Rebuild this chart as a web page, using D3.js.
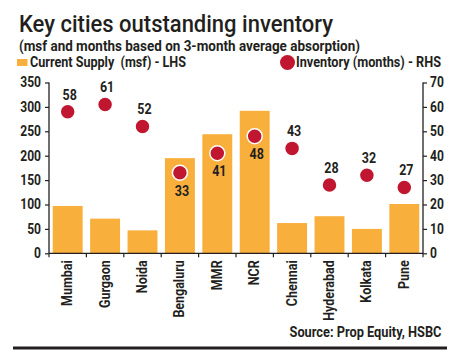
<!DOCTYPE html>
<html><head><meta charset="utf-8">
<script src="https://cdn.jsdelivr.net/npm/d3@7"></script>
<style>
body{margin:0;background:#fff;}
text{font-family:Roboto,"Liberation Sans",sans-serif;fill:#231f20;}
</style></head><body>
<svg id="c" width="462" height="355"></svg>
<script>
const cities = ["Mumbai","Gurgaon","Noida","Bengaluru","MMR","NCR","Chennai","Hyderabad","Kolkata","Pune"];
const supply = [97,71,47,195,244,292,62,76,50,101];
const inventory = [58,61,52,33,41,48,43,28,32,27];
const leftTicks = [0,50,100,150,200,250,300,350];
const rightTicks = [0,10,20,30,40,50,60,70];
const labelBelow = ["Bengaluru","MMR","NCR"];

const svg = d3.select("#c");
const L = 49, R = 423, T = 82.5, B = 253.3;
const x = d3.scaleBand().domain(cities).range([L,R]).paddingInner(0.2).paddingOuter(0.1);
const yL = d3.scaleLinear().domain([0,350]).range([B,T]);
const yR = d3.scaleLinear().domain([0,70]).range([B,T]);
const orange = "#f9af3c", red = "#c1162f";

function fit(sel, w){ sel.attr("textLength", w).attr("lengthAdjust","spacingAndGlyphs"); return sel; }
function condense(sel, f){ sel.each(function(){ const w=this.getComputedTextLength(); d3.select(this).attr("textLength", w*f).attr("lengthAdjust","spacingAndGlyphs"); }); return sel; }

fit(svg.append("text").attr("x",19).attr("y",32).attr("font-size",24).attr("font-weight",500).text("Key cities outstanding inventory"),314);
fit(svg.append("text").attr("x",19).attr("y",50.5).attr("font-size",14).attr("font-weight","bold").text("(msf and months based on 3-month average absorption)"),341);
svg.append("rect").attr("x",17).attr("y",59).attr("width",10.5).attr("height",7).attr("fill",orange);
fit(svg.append("text").attr("x",30).attr("y",66.5).attr("font-size",14).attr("font-weight","bold").attr("xml:space","preserve").text("Current Supply  (msf) - LHS"),156);
svg.append("circle").attr("cx",287.5).attr("cy",62.5).attr("r",7.5).attr("fill",red);
fit(svg.append("text").attr("x",296).attr("y",66.5).attr("font-size",14).attr("font-weight","bold").text("Inventory (months) - RHS"),145);

svg.selectAll(".bar").data(cities).enter().append("rect")
  .attr("x",d=>x(d)).attr("width",x.bandwidth())
  .attr("y",(d,i)=>yL(supply[i])).attr("height",(d,i)=>B-yL(supply[i]))
  .attr("fill",orange);

// axes
const axL = svg.append("g").attr("transform",`translate(${L},0)`)
  .call(d3.axisLeft(yL).tickValues(leftTicks).tickSize(4).tickPadding(4));
const axR = svg.append("g").attr("transform",`translate(${R},0)`)
  .call(d3.axisRight(yR).tickValues(rightTicks).tickSize(4).tickPadding(3));
[axL,axR].forEach(a=>{
  a.select(".domain").attr("stroke","#231f20").attr("stroke-width",1.3).attr("d",`M0,${B}V${T}`);
  a.selectAll("line").attr("stroke","#231f20").attr("stroke-width",1.2);
  const t = a.selectAll("text").attr("font-size",14).attr("font-weight","bold").attr("fill","#231f20");
  condense(t,0.86);
});
// x axis
const gx = svg.append("g");
gx.append("line").attr("x1",L).attr("x2",R).attr("y1",B).attr("y2",B).attr("stroke","#231f20").attr("stroke-width",1.3);
const bounds = d3.range(cities.length+1).map(i=>L + (R-L)*i/cities.length);
gx.selectAll(".tk").data(bounds).enter().append("line")
  .attr("x1",d=>d).attr("x2",d=>d).attr("y1",B).attr("y2",B+4).attr("stroke","#231f20").attr("stroke-width",1.2);
const xl = gx.selectAll(".xl").data(cities).enter().append("text")
  .attr("transform",d=>`translate(${x(d)+x.bandwidth()/2+4.5},${B+7}) rotate(-90)`)
  .attr("text-anchor","end").attr("font-size",14.5).attr("font-weight","bold").text(d=>d);
condense(xl,0.86);

// dots
svg.selectAll(".dot").data(cities).enter().append("circle")
  .attr("cx",d=>x(d)+x.bandwidth()/2).attr("cy",(d,i)=>yR(inventory[i]))
  .attr("r",7.5).attr("fill",red).attr("stroke","#fff").attr("stroke-width",1.5);
const vl = svg.selectAll(".vl").data(cities).enter().append("text")
  .attr("x",d=>x(d)+x.bandwidth()/2+2)
  .attr("y",(d,i)=>yR(inventory[i]) + (labelBelow.includes(d)?23:-12))
  .attr("text-anchor","middle").attr("font-size",14.5).attr("font-weight","bold")
  .text((d,i)=>inventory[i]);
condense(vl,0.86);

fit(svg.append("text").attr("x",441.5).attr("y",337).attr("text-anchor","end").attr("font-size",14).attr("font-weight","bold").text("Source: Prop Equity, HSBC"),152);
svg.append("rect").attr("x",13).attr("y",346.5).attr("width",434).attr("height",3).attr("fill","#231f20");
</script></body></html>
